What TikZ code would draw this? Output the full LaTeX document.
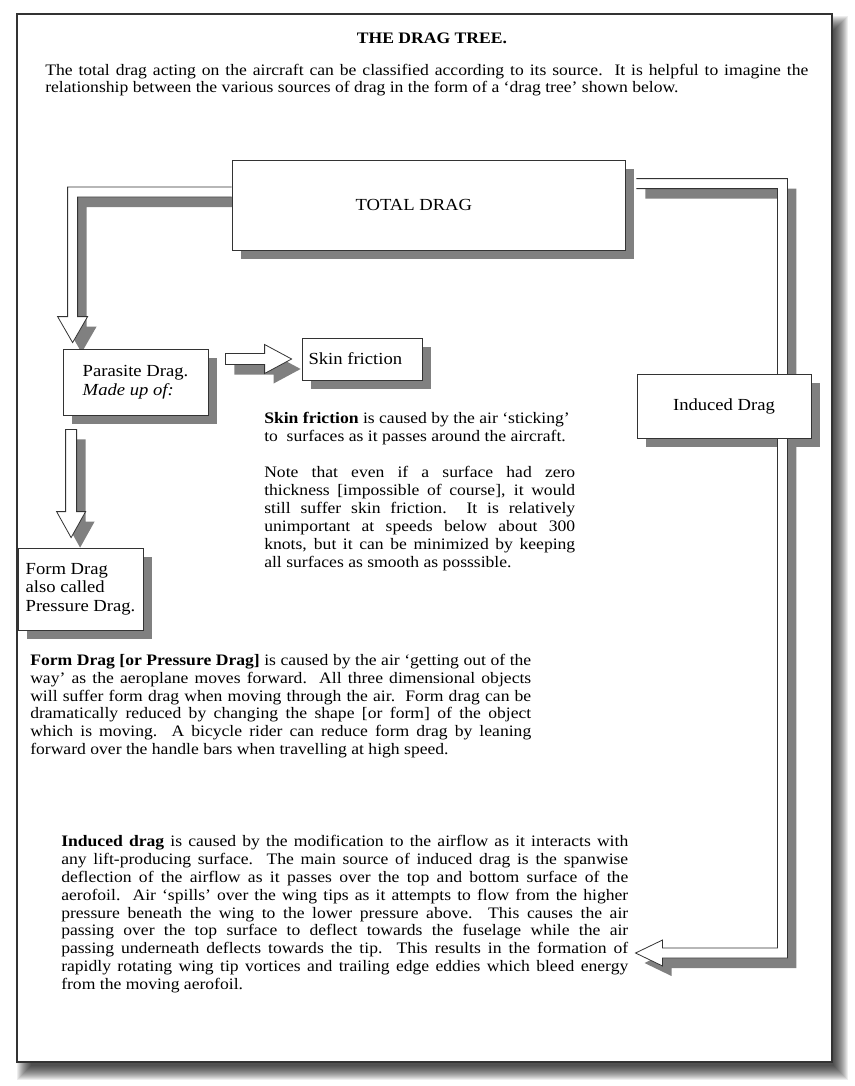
\documentclass[tikz,border=0pt]{standalone}
\usepackage{fontspec}
\setmainfont{Liberation Serif}[FakeStretch=1.1]
\usetikzlibrary{calc}
\pgfdeclarelayer{pagelayer}
\pgfdeclarelayer{shadelayer}
\pgfdeclarelayer{arrowlayer}
\pgfsetlayers{pagelayer,shadelayer,arrowlayer,main}
\definecolor{shadegray}{gray}{0.5}
\definecolor{edgegray}{gray}{0.2}
\newcommand{\boxfont}{\fontsize{12.7pt}{13.8pt}\selectfont}
\newcommand{\parafont}{\fontsize{12pt}{13.4pt}\selectfont}

\begin{document}
\begin{tikzpicture}[x=0.75pt,y=-0.75pt]
    \tikzset{box/.style={draw=edgegray,fill=white,line width=0.6pt,inner sep=0pt,font=\boxfont},
             para/.style={anchor=north west,inner sep=0pt,align=justify,font=\parafont},
             band/.style={draw=edgegray,fill=white,line width=0.6pt},
             shade/.style={fill=shadegray}}
    \useasboundingbox (0,0) rectangle (854,1086);

    % the page and its shadow
    \begin{pgfonlayer}{pagelayer}
    \fill[white] (0,0) rectangle (854,1086);
    \foreach \e in {-6,...,8}
        \fill[black,opacity=0.07] ({25-(\e)},{24-(\e)}) rectangle ({840+(\e)},{1072+(\e)});
    \filldraw[fill=white,draw=edgegray,line width=1.1pt] (17,14) rectangle (832,1062);
    \end{pgfonlayer}

    % texts
    \node[font=\fontsize{12pt}{14pt}\selectfont\bfseries] (title) at (432,38) {THE DRAG TREE.};
    \node[para,text width=572.25pt,font=\fontsize{12pt}{12.6pt}\selectfont] (intro) at (45,64)
        {The total drag acting on the aircraft can be classified according to its source.\ \ It is helpful to imagine the\linebreak
         relationship between the various sources of drag in the form of a ‘drag tree’ shown below.};
    \node[para,text width=233.25pt,font=\fontsize{12pt}{13.5pt}\selectfont] (skintext) at (264,412)
        {\textbf{Skin friction} is caused by the air ‘sticking’\\
         to\ \ surfaces as it passes around the aircraft.\\[13.5pt]
         Note that even if a surface had zero\linebreak
         thickness [impossible of course], it would\linebreak
         still suffer skin friction.\ \ It is relatively\linebreak
         unimportant at speeds below about 300\linebreak
         knots, but it can be minimized by keeping\linebreak
         all surfaces as smooth as posssible.};
    \node[para,text width=375.75pt,font=\fontsize{12pt}{13.3pt}\selectfont] (formtext) at (30,654)
        {\textbf{Form Drag [or Pressure Drag]} is caused by the air ‘getting out of the\linebreak
         way’ as the aeroplane moves forward.\ \ All three dimensional objects\linebreak
         will suffer form drag when moving through the air.\ \ Form drag can be\linebreak
         dramatically reduced by changing the shape [or form] of the object\linebreak
         which is moving.\ \ A bicycle rider can reduce form drag by leaning\linebreak
         forward over the handle bars when travelling at high speed.};
    \node[para,text width=425.25pt] (indtext) at (61,835)
        {\textbf{Induced drag} is caused by the modification to the airflow as it interacts with\linebreak
         any lift-producing surface.\ \ The main source of induced drag is the spanwise\linebreak
         deflection of the airflow as it passes over the top and bottom surface of the\linebreak
         aerofoil.\ \ Air ‘spills’ over the wing tips as it attempts to flow from the higher\linebreak
         pressure beneath the wing to the lower pressure above. This causes the air\linebreak
         passing over the top surface to deflect towards the fuselage while the air\linebreak
         passing underneath deflects towards the tip.\ \ This results in the formation of\linebreak
         rapidly rotating wing tip vortices and trailing edge eddies which bleed energy\linebreak
         from the moving aerofoil.};

    % boxes
    \node[box,minimum width=294.75pt,minimum height=67.5pt] (total) at (428.5,205) {TOTAL DRAG\hspace*{22pt}};
    \node[box,minimum width=108.75pt,minimum height=49.5pt,align=left] (parasite) at (135.5,382)
        {Parasite Drag.\\\textit{Made up of:}};
    \node[box,minimum width=90pt,minimum height=31.5pt] (skin) at (362,359) {Skin friction\hspace*{10pt}};
    \node[box,minimum width=130.5pt,minimum height=48pt] (induced) at (724,406) {Induced Drag};
    \node[box,minimum width=93.75pt,minimum height=61.5pt,align=left] (form) at (80.5,589)
        {Form Drag\\also called\\Pressure Drag.};

    % points of the fat arrows
    \coordinate (totL) at ($(total.west)+(0,-13)$);
    \coordinate (tipP) at ($(parasite.north west)+(10,-6)$);
    \coordinate (cornL) at (totL -| tipP);
    \coordinate (tipS) at ($(skin.west)+(-10,0)$);
    \coordinate (tailS) at ($(parasite.east |- tipS)+(17,0)$);
    \coordinate (tailF) at ($(parasite.south west)+(8.5,14)$);
    \coordinate (tipF) at ($(tailF |- form.north)+(0,-10)$);
    \coordinate (totR) at ($(total.north east)+(11,24)$);
    \coordinate (cornTR) at ($(totR -| induced.north east)+(-29,0)$);
    \coordinate (tipI) at ($(indtext.north east)+(7,118)$);
    \coordinate (cornBR) at (cornTR |- tipI);

    \begin{pgfonlayer}{arrowlayer}
    \filldraw[band,save path=\arrowtp]
        ($(totL)+(0,-5)$) -- ($(cornL)+(-5,-5)$) -- ($(tipP)+(-5,-26)$) -- ($(tipP)+(-15,-26)$)
        -- (tipP) -- ($(tipP)+(15,-26)$) -- ($(tipP)+(5,-26)$) -- ($(cornL)+(5,5)$) -- ($(totL)+(0,5)$);
    \filldraw[band,save path=\arrowps]
        ($(tailS)+(0,-5.5)$) -- ($(tipS)+(-27,-5.5)$) -- ($(tipS)+(-27,-14.5)$) -- (tipS)
        -- ($(tipS)+(-27,14.5)$) -- ($(tipS)+(-27,5.5)$) -- ($(tailS)+(0,5.5)$) -- cycle;
    \filldraw[band,save path=\arrowpf]
        ($(tailF)+(-5.5,0)$) -- ($(tipF)+(-5.5,-26)$) -- ($(tipF)+(-14.5,-26)$) -- (tipF)
        -- ($(tipF)+(14.5,-26)$) -- ($(tipF)+(5.5,-26)$) -- ($(tailF)+(5.5,0)$) -- cycle;
    \filldraw[band,save path=\arrowti]
        ($(totR)+(0,-5)$) -- ($(cornTR)+(5,-5)$) -- ($(cornBR)+(5,5)$) -- ($(tipI)+(27,5)$)
        -- ($(tipI)+(27,13)$) -- (tipI) -- ($(tipI)+(27,-13)$) -- ($(tipI)+(27,-5)$)
        -- ($(cornBR)+(-5,-5)$) -- ($(cornTR)+(-5,5)$) -- ($(totR)+(0,5)$);
    \end{pgfonlayer}

    % shadows
    \begin{pgfonlayer}{shadelayer}
    \foreach \b in {total,parasite,skin,induced,form}
        \fill[shade] ($(\b.north west)+(9,9)$) rectangle ($(\b.south east)+(9,9)$);
    \foreach \a in {\arrowtp,\arrowps,\arrowpf,\arrowti}
        \fill[shade,transform canvas={shift={(9,10)}},use path=\a];
    \end{pgfonlayer}
\end{tikzpicture}
\end{document}
